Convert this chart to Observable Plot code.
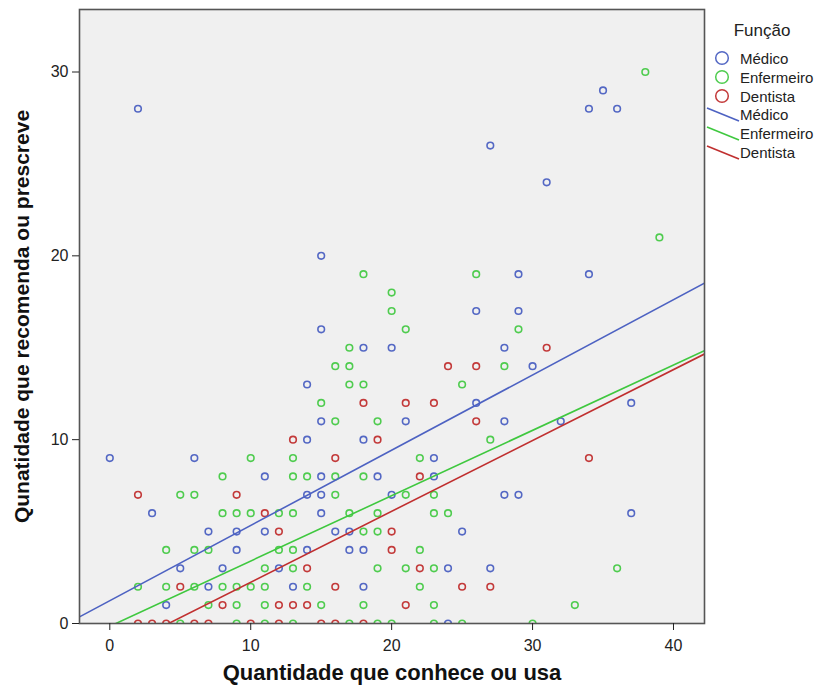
<!DOCTYPE html>
<html>
<head>
<meta charset="utf-8">
<script src="https://cdn.jsdelivr.net/npm/d3@7"></script>
<script src="https://cdn.jsdelivr.net/npm/@observablehq/plot@0.6"></script>
<style>
  html, body { margin: 0; padding: 0; background: #fff; }
  #wrap { position: relative; width: 822px; height: 689px; font-family: "Liberation Sans", Arial, sans-serif; }
  #legend { position: absolute; left: 0; top: 0; pointer-events: none; }
</style>
</head>
<body>
<div id="wrap">
  <div id="chart"></div>
  <svg id="legend" width="822" height="689"></svg>
</div>
<script>
// ---- data ----
const groups = ["Médico", "Enfermeiro", "Dentista"];
const groupColors = ["#5468c4", "#4fcc4f", "#c33a3a"];
const lineColors = ["#4d62c2", "#3fc83f", "#c02f2f"];

const medico = [[2,28],[15,20],[35,29],[34,28],[36,28],[27,26],[31,24],[29,19],[34,19],[26,17],[29,17],
  [15,16],[18,15],[20,15],[28,15],[14,13],[30,14],[26,12],[37,12],[15,11],[21,11],[28,11],[32,11],
  [14,10],[18,10],[0,9],[6,9],[23,9],[11,8],[15,8],[19,8],[23,8],[14,7],[15,7],[20,7],[28,7],[29,7],
  [3,6],[15,6],[37,6],[7,5],[9,5],[11,5],[16,5],[17,5],[25,5],[9,4],[14,4],[17,4],[18,4],
  [5,3],[8,3],[12,3],[24,3],[27,3],[7,2],[13,2],[18,2],[4,1],[24,0]];

const enfermeiro = [[18,19],[20,18],[38,30],[39,21],[26,19],[20,17],[17,15],[21,16],[29,16],[16,14],[17,14],
  [28,14],[17,13],[18,13],[25,13],[15,12],[16,11],[19,11],[27,10],[10,9],[13,9],[22,9],[8,8],[13,8],
  [14,8],[16,8],[18,8],[5,7],[6,7],[16,7],[21,7],[23,7],[8,6],[9,6],[10,6],[12,6],[13,6],[17,6],[19,6],
  [23,6],[24,6],[18,5],[19,5],[4,4],[6,4],[7,4],[12,4],[13,4],[22,4],[11,3],[13,3],[19,3],[21,3],[23,3],
  [36,3],[2,2],[4,2],[6,2],[8,2],[9,2],[10,2],[11,2],[14,2],[22,2],[7,1],[9,1],[11,1],[15,1],[18,1],
  [23,1],[33,1],[5,0],[9,0],[11,0],[13,0],[17,0],[19,0],[20,0],[23,0],[25,0],[30,0]];

const dentista = [[31,15],[24,14],[26,14],[18,12],[21,12],[23,12],[26,11],[13,10],[19,10],[16,9],[34,9],
  [22,8],[2,7],[9,7],[11,6],[12,5],[20,5],[20,4],[14,3],[22,3],[5,2],[16,2],[25,2],[27,2],[8,1],[12,1],
  [13,1],[14,1],[21,1],[2,0],[3,0],[4,0],[6,0],[7,0],[10,0],[12,0],[15,0],[16,0],[18,0]];

// fit lines (intercept, slope)
const fitIntercept = [1.24, -0.153, -1.607];
const fitSlope = [0.4094, 0.3553, 0.3855];

const xTicks = [0, 10, 20, 30, 40];
const yTicks = [0, 10, 20, 30];
const xDomain = [-2.15, 42.2];
const yDomain = [0, 33.4];
const xTitle = "Quantidade que conhece ou usa";
const yTitle = "Qunatidade que recomenda ou prescreve";
const legendTitle = "Função";

// ---- build tables ----
const points = [];
[medico, enfermeiro, dentista].forEach((arr, gi) => {
  arr.forEach(([x, y]) => points.push({x, y, g: groups[gi]}));
});
const fitLines = [];
groups.forEach((g, i) => {
  xDomain.forEach(x => fitLines.push({g, x, y: fitIntercept[i] + fitSlope[i] * x}));
});

const chart = Plot.plot({
  width: 822,
  height: 689,
  marginLeft: 79,
  marginRight: 118,
  marginTop: 9,
  marginBottom: 66,
  style: {fontFamily: "'Liberation Sans', Arial, sans-serif", fontSize: "16px", color: "#222", background: "#fff"},
  x: {domain: xDomain, ticks: xTicks, label: null},
  y: {domain: yDomain, ticks: yTicks, label: null},
  color: {domain: groups, range: groupColors},
  marks: [
    Plot.frame({fill: "#f0f0f0"}),
    Plot.dot(points, {x: "x", y: "y", stroke: "g", r: 3.3, strokeWidth: 1.6, clip: true}),
    Plot.line(fitLines, {x: "x", y: "y", z: "g", stroke: d => lineColors[groups.indexOf(d.g)], strokeWidth: 1.6, clip: true}),
    Plot.frame({stroke: "#555", strokeWidth: 1.6}),
    Plot.axisX({ticks: xTicks, tickSize: 7, tickPadding: 9, fontSize: 16, stroke: "#222", label: null}),
    Plot.axisY({ticks: yTicks, tickSize: 7, tickPadding: 4, fontSize: 16, stroke: "#222", label: null}),
    Plot.text([xTitle], {frameAnchor: "bottom", dy: 56, textAnchor: "middle", fontWeight: "bold", fontSize: 22, fill: "#111"}),
    Plot.text([yTitle], {frameAnchor: "left", dx: -57, textAnchor: "middle", rotate: -90, fontWeight: "bold", fontSize: 21, fill: "#111"})
  ]
});
document.getElementById("chart").appendChild(chart);

// ---- legend ----
const lg = d3.select("#legend").attr("font-family", "'Liberation Sans', Arial, sans-serif");
lg.append("text").attr("x", 762).attr("y", 30).attr("text-anchor", "middle")
  .attr("dominant-baseline", "central").attr("font-size", 17).attr("fill", "#222").text(legendTitle);
groups.forEach((g, i) => {
  const cy = 58 + i * 19;
  lg.append("circle").attr("cx", 722).attr("cy", cy).attr("r", 6.3)
    .attr("fill", "none").attr("stroke", groupColors[i]).attr("stroke-width", 1.5);
  lg.append("text").attr("x", 740).attr("y", cy).attr("dominant-baseline", "central")
    .attr("font-size", 15).attr("fill", "#222").text(g);
});
groups.forEach((g, i) => {
  const cy = 114 + i * 19;
  lg.append("line").attr("x1", 707).attr("y1", cy - 6).attr("x2", 739).attr("y2", cy + 7)
    .attr("stroke", lineColors[i]).attr("stroke-width", 1.6);
  lg.append("text").attr("x", 740).attr("y", cy).attr("dominant-baseline", "central")
    .attr("font-size", 15).attr("fill", "#222").text(g);
});
</script>
</body>
</html>
